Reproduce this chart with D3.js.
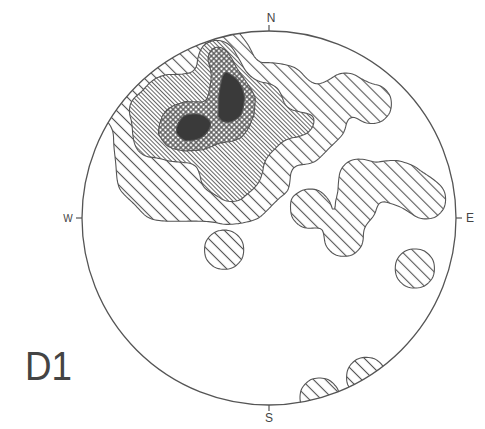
<!DOCTYPE html>
<html>
<head>
<meta charset="utf-8">
<script src="https://cdn.jsdelivr.net/npm/d3@7"></script>
<style>
  body { margin: 0; background: #fff; }
  text { font-family: "Liberation Sans", Arial, sans-serif; fill: #444; }
</style>
</head>
<body>
<svg id="chart" width="485" height="429"></svg>
<script>
// poles on the equal-area net, in percent of the net radius (x east, y north)
const poleX = [
  -40, -30, -25,
  -60, -50, -40, -30, -20,
  -70, -60, -50, -40, -30, -20, -10, 0, 10,
  -80, -70, -60, -50, -40, -30, -20, -10, 0, 10, 20, 30,
  -70, -60, -50, -40, -30, -20, -10, 0, 10, 20, 30,
  -70, -60, -50, -40, -30, -20, -10, 0, 10, 20,
  -70, -60, -50, -40, -30, -20, -10, 0,
  -70, -60, -50, -40, -30, -20, -10, 0,
  -60, -50, -40, -30, -20, -10,
  41, 55,
  22, 40, 47, 48, 65, 74, 84,
  -24, 78, 27, 52
];
const poleY = [
  90, 90, 88,
  80, 80, 80, 80, 80,
  70, 70, 70, 70, 70, 70, 70, 70, 70,
  60, 60, 60, 60, 60, 60, 60, 60, 60, 60, 60, 60,
  50, 50, 50, 50, 50, 50, 50, 50, 50, 50, 50,
  40, 40, 40, 40, 40, 40, 40, 40, 40, 40,
  30, 30, 30, 30, 30, 30, 30, 30,
  20, 20, 20, 20, 20, 20, 20, 20,
  10, 10, 10, 10, 10, 10,
  67, 61,
  5, -10, 7, 21, 20, 17, 10,
  -17, -27, -96, -85
];
const poleCount = [
  1, 2, 3,
  1, 1, 1, 2, 3,
  1, 2, 2, 2, 2, 5, 2, 2, 1,
  1, 2, 2, 2, 2, 2, 5, 2, 2, 1, 1, 1,
  2, 2, 3, 5, 3, 3, 2, 2, 2, 2, 1,
  2, 2, 3, 3, 2, 2, 2, 2, 1, 1,
  1, 1, 1, 1, 2, 2, 2, 1,
  1, 1, 1, 1, 2, 2, 2, 1,
  1, 1, 1, 1, 2, 1,
  1, 1,
  1, 1, 1, 1, 1, 1, 1,
  1, 1, 1, 1
];

// contour levels, as multiples of the peak density of a single pole
const levels = [0.22, 3.0, 4.95, 6.9];
const directions = ["N", "E", "S", "W"];

const width = 485;
const height = 429;
const cx = 269, cy = 218, radius = 187;

const svg = d3.select("#chart");

const x = d3.scaleLinear().domain([-100, 100]).range([cx - radius, cx + radius]);
const y = d3.scaleLinear().domain([-100, 100]).range([cy + radius, cy - radius]);

const poles = poleX.map((d, i) => ({ x: d, y: poleY[i], n: poleCount[i] }));

const bandwidth = 10;
const density = d3.contourDensity()
  .x(d => x(d.x))
  .y(d => y(d.y))
  .weight(d => d.n)
  .size([width, height])
  .cellSize(2)
  .bandwidth(bandwidth);

// peak value of one pole, so the levels can be given in pole units
let unit = 1 / (2 * Math.PI * bandwidth * bandwidth);
if (density.contours) unit = density.contours([{ x: 0, y: 0, n: 1 }]).max;

const contours = density.thresholds(levels.map(l => l * unit))(poles);

// hatch patterns
const defs = svg.append("defs");
function hatch(id, step, lineWidth, cross) {
  const p = defs.append("pattern")
    .attr("id", id)
    .attr("patternUnits", "userSpaceOnUse")
    .attr("width", step)
    .attr("height", step)
    .attr("patternTransform", "rotate(45)");
  p.append("rect").attr("width", step).attr("height", step).attr("fill", "#fff");
  p.append("line")
    .attr("x1", 0).attr("x2", step)
    .attr("y1", step / 2).attr("y2", step / 2)
    .attr("stroke", "#555").attr("stroke-width", lineWidth);
  if (cross) {
    p.append("line")
      .attr("y1", 0).attr("y2", step)
      .attr("x1", step / 2).attr("x2", step / 2)
      .attr("stroke", "#555").attr("stroke-width", lineWidth);
  }
}
hatch("h1", 8.5, 1.1, false);
hatch("h2", 3, 0.9, false);
hatch("h3", 3.6, 1.3, true);

defs.append("clipPath").attr("id", "net")
  .append("circle").attr("cx", cx).attr("cy", cy).attr("r", radius);

const fills = ["url(#h1)", "url(#h2)", "url(#h3)", "#3a3a3a"];

svg.append("g")
  .attr("clip-path", "url(#net)")
  .selectAll("path")
  .data(contours)
  .join("path")
  .attr("d", d3.geoPath())
  .attr("fill", (d, i) => fills[i])
  .attr("stroke", "#555")
  .attr("stroke-width", 1.1);

// primitive circle
svg.append("circle")
  .attr("cx", cx).attr("cy", cy).attr("r", radius)
  .attr("fill", "none")
  .attr("stroke", "#555")
  .attr("stroke-width", 1.3);

// compass ticks and letters
const dirs = directions.map((d, i) => {
  const a = i * Math.PI / 2;
  return { name: d, dx: Math.sin(a), dy: -Math.cos(a) };
});
svg.selectAll(".tick")
  .data(dirs)
  .join("line")
  .attr("x1", d => cx + d.dx * radius)
  .attr("y1", d => cy + d.dy * radius)
  .attr("x2", d => cx + d.dx * (radius + 6))
  .attr("y2", d => cy + d.dy * (radius + 6))
  .attr("stroke", "#555")
  .attr("stroke-width", 1.2);

svg.selectAll(".dir")
  .data(dirs)
  .join("text")
  .attr("x", d => cx + d.dx * (radius + 14) + (d.name === "N" ? 2 : 0))
  .attr("y", d => cy + d.dy * (radius + 13))
  .attr("dy", "0.35em")
  .attr("text-anchor", "middle")
  .attr("font-size", d => d.name === "W" ? 10 : 12)
  .text(d => d.name);

svg.append("text")
  .attr("x", 25)
  .attr("y", 380)
  .attr("font-size", 41)
  .attr("textLength", 47)
  .attr("lengthAdjust", "spacingAndGlyphs")
  .text("D1");
</script>
</body>
</html>
